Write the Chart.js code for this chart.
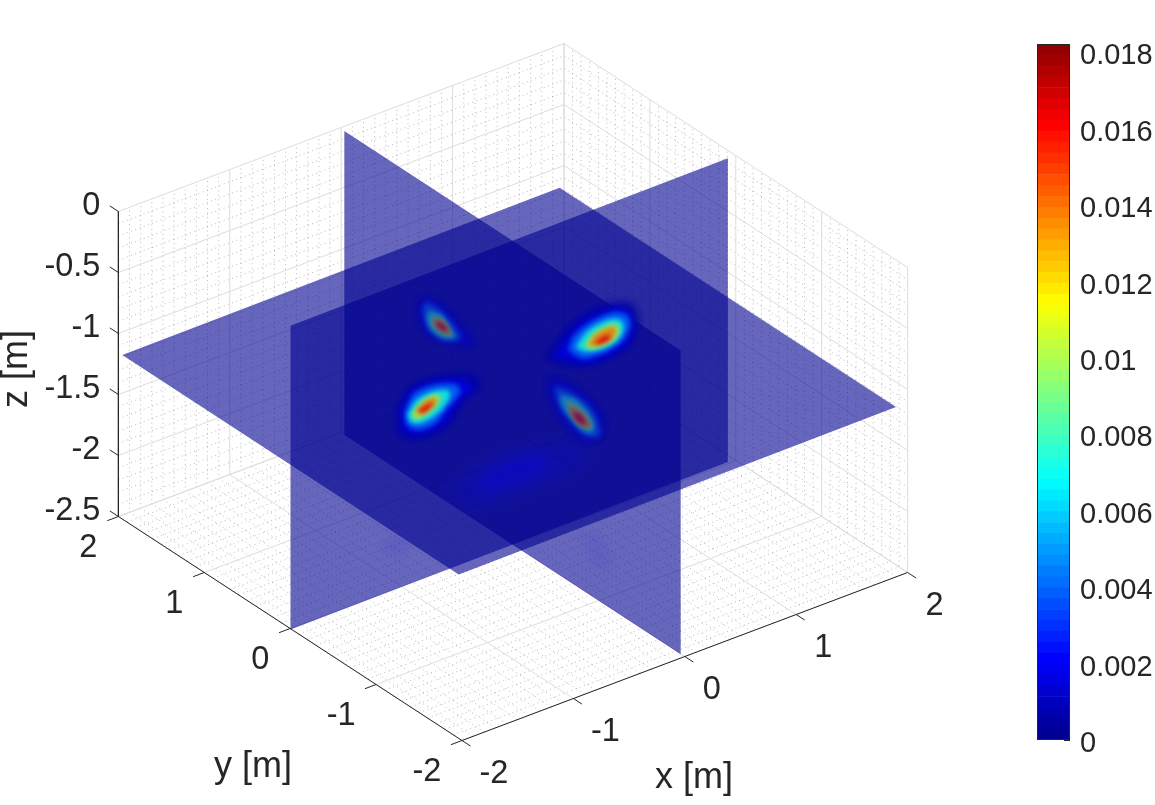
<!DOCTYPE html>
<html>
<head>
<meta charset="utf-8">
<title>Slices</title>
<script src="https://cdn.jsdelivr.net/npm/chart.js@4"></script>
<style>
    html, body { margin: 0; padding: 0; background: #ffffff; overflow: hidden; }
    #slices { position: absolute; left: 0; top: 0; }
    #colorbar { position: absolute; left: 1000px; top: 0; }
</style>
</head>
<body>
<canvas id="slices" width="1155" height="805"></canvas>
<canvas id="colorbar" width="155" height="805"></canvas>
<script>
// Axis ticks
const xTicks = [-2, -1, 0, 1, 2];
const yTicks = [-2, -1, 0, 1, 2];
const zTicks = [0, -0.5, -1, -1.5, -2, -2.5];
const xTickLabels = ['-2', '-1', '0', '1', '2'];
const yTickLabels = ['-2', '-1', '0', '1', '2'];
const zTickLabels = ['0', '-0.5', '-1', '-1.5', '-2', '-2.5'];

// Colorbar
const cbMax = 0.01822;
const cbTicks = [0, 0.002, 0.004, 0.006, 0.008, 0.01, 0.012, 0.014, 0.016, 0.018];
const cbTickLabels = ['0', '0.002', '0.004', '0.006', '0.008', '0.01', '0.012', '0.014', '0.016', '0.018'];

// Slices: extent of the sampled volume and the slice positions
const gridX = [-2, 1.94];
const gridY = [-1.95, 1.95];
const gridZ = [-2.5, -0.01];
const sliceX = 0;
const sliceY = 0;
const sliceZ = -1.15;

// Levels of the spots on the z slice, each drawn from one contour of a spot
const spotLevels = [0.0007, 0.0018, 0.0042, 0.0072, 0.0102, 0.0132, 0.016];
const spotContour = [0, 0, 1, 2, 3, 4, 5];
const spotSpread = [1.35, 1.12, 1.14, 1.14, 1.12, 1.08, 1];
const spotBlur = [5, 3.5, 2.5, 2.2, 2, 2, 2];

// Spot centres [x, y] and contours as [dx, dy] in metres around the centre
const spotTopRightCentre = [0.86, 0.06];
const spotTopRight = [
    [[-0.38, 0.02], [-0.10, 0.20], [0.11, 0.28], [0.31, 0.26], [0.35, 0.19], [0.26, 0.03], [0.09, -0.13], [-0.11, -0.18], [-0.28, -0.15]],
    [[-0.25, 0.03], [-0.11, 0.15], [0.08, 0.22], [0.26, 0.23], [0.31, 0.15], [0.24, 0.03], [0.08, -0.09], [-0.09, -0.13], [-0.24, -0.11]],
    [[-0.19, 0.03], [-0.04, 0.13], [0.08, 0.17], [0.21, 0.17], [0.24, 0.12], [0.19, 0.03], [0.07, -0.06], [-0.06, -0.09], [-0.18, -0.05]],
    [[-0.14, 0.01], [-0.02, 0.09], [0.08, 0.12], [0.18, 0.12], [0.18, 0.06], [0.10, -0.02], [-0.02, -0.06], [-0.13, -0.05]],
    [[-0.12, 0.00], [-0.02, 0.07], [0.08, 0.10], [0.16, 0.09], [0.14, 0.04], [0.05, -0.03], [-0.06, -0.04]],
    [[-0.08, -0.01], [0.02, 0.03], [0.08, 0.02], [0.04, -0.02], [-0.05, -0.03]]
];

const spotBottomLeftCentre = [-0.74, 0.06];
const spotBottomLeft = [
    [[-0.14, 0.07], [0.08, 0.23], [0.28, 0.22], [0.42, 0.13], [0.38, 0.00], [0.22, -0.06], [0.01, -0.21], [-0.20, -0.25], [-0.29, -0.15]],
    [[-0.14, 0.03], [0.05, 0.18], [0.22, 0.19], [0.33, 0.11], [0.29, 0.02], [0.10, -0.09], [-0.07, -0.19], [-0.20, -0.19], [-0.22, -0.10]],
    [[-0.14, 0.00], [0.02, 0.11], [0.18, 0.13], [0.25, 0.08], [0.19, 0.00], [0.00, -0.11], [-0.15, -0.13], [-0.18, -0.08]],
    [[-0.12, -0.01], [0.04, 0.08], [0.14, 0.10], [0.17, 0.06], [0.11, 0.00], [-0.03, -0.07], [-0.14, -0.08]],
    [[-0.08, 0.00], [0.03, 0.06], [0.11, 0.07], [0.13, 0.04], [0.04, -0.02], [-0.07, -0.05]],
    [[-0.06, 0.00], [0.03, 0.02], [0.09, 0.02], [0.02, -0.02], [-0.06, -0.04]]
];

const spotTopLeftCentre = [0.07, 0.93];
const spotTopLeft = [
    [[0.13, 0.32], [0.15, 0.18], [0.11, -0.02], [0.02, -0.30], [-0.08, -0.23], [-0.12, -0.07], [-0.08, 0.09], [0.04, 0.26]],
    [[0.11, 0.27], [0.11, 0.14], [0.07, -0.04], [-0.01, -0.22], [-0.10, -0.18], [-0.10, -0.02], [-0.03, 0.12], [0.04, 0.23]],
    [[0.05, 0.18], [0.08, 0.09], [0.03, -0.05], [-0.02, -0.18], [-0.09, -0.14], [-0.08, -0.01], [-0.02, 0.11]],
    [[0.03, 0.12], [0.05, 0.05], [0.02, -0.07], [-0.03, -0.16], [-0.06, -0.10], [-0.05, 0.01]],
    [[0.02, 0.09], [0.04, 0.03], [0.01, -0.07], [-0.02, -0.13], [-0.05, -0.08], [-0.03, 0.01]],
    [[0.00, 0.05], [0.015, -0.01], [0.00, -0.09], [-0.03, -0.07], [-0.03, -0.01]]
];

const spotBottomRightCentre = [0.05, -0.66];
const spotBottomRight = [
    [[0.14, 0.42], [0.20, 0.34], [0.19, 0.15], [0.12, -0.12], [-0.04, -0.30], [-0.14, -0.28], [-0.11, -0.05], [-0.01, 0.22], [0.09, 0.38]],
    [[0.12, 0.36], [0.15, 0.24], [0.14, 0.05], [0.07, -0.14], [-0.04, -0.30], [-0.11, -0.25], [-0.07, -0.02], [0.01, 0.19]],
    [[0.08, 0.25], [0.12, 0.17], [0.09, -0.01], [0.02, -0.17], [-0.05, -0.24], [-0.08, -0.19], [-0.04, 0.00], [0.01, 0.15]],
    [[0.07, 0.18], [0.08, 0.09], [0.05, -0.07], [-0.02, -0.20], [-0.06, -0.16], [-0.03, -0.01]],
    [[0.03, 0.12], [0.05, 0.05], [0.03, -0.08], [-0.02, -0.18], [-0.06, -0.13], [-0.03, -0.01]],
    [[0.02, 0.04], [0.03, -0.02], [-0.01, -0.14], [-0.04, -0.11], [-0.02, -0.02]]
];

// Faint lobes on the vertical slices: [x, z] on the y slice, [y, z] on the x slice
const arcOuter = [[-0.62, -1.88], [-0.38, -1.80], [-0.02, -1.76], [0.43, -1.83], [0.70, -1.94], [0.52, -2.07], [0.07, -2.08], [-0.38, -2.04]];
const arcInner = [[-0.29, -1.85], [-0.02, -1.82], [0.29, -1.87], [0.29, -1.99], [-0.02, -1.98], [-0.29, -1.97]];
const lobeLeft = [[-1.20, -2.09], [-1.06, -2.05], [-0.92, -2.18], [-1.06, -2.24]];
const lobeRight = [[-0.76, -2.03], [-1.01, -1.95], [-1.15, -2.10], [-1.01, -2.24], [-0.84, -2.16]];

// Orthographic view: pixels per metre along each axis
function project(x, y, z) {
    return {
        x: 463 + 111 * (x + 2) - 86.25 * (y + 2),
        y: 742 - 42.5 * (x + 2) - 56.25 * (y + 2) - 122 * (z + 2.5)
    };
}

function projectBox(x, y, z) {
    return {
        x: 462 + 111.4 * (x + 2) - 85.9 * (y + 2),
        y: 740.5 - 42 * (x + 2) - 56 * (y + 2) - 122 * (z + 2.5)
    };
}

function jet(v) {
    const c = t => Math.round(255 * Math.max(0, Math.min(1, t)));
    return [c(Math.min(4 * v - 1.5, 4.5 - 4 * v)), c(Math.min(4 * v - 0.5, 3.5 - 4 * v)), c(Math.min(4 * v + 0.5, 2.5 - 4 * v))];
}

function closed(points) {
    return points.concat([points[0]]);
}

function lineSet(points, color, width, dash) {
    return {
        data: points, showLine: true, fill: false, pointRadius: 0,
        borderColor: color, borderWidth: width, borderDash: dash || [], tension: 0
    };
}

function areaSet(points, color, blur, tension) {
    return {
        data: closed(points), showLine: true, fill: 'shape', pointRadius: 0,
        borderWidth: 0, borderColor: 'rgba(0,0,0,0)', backgroundColor: color,
        tension: tension || 0, blur: blur || 0
    };
}

// Grid lines on the floor and on the two back walls
function gridLines(xs, ys, zs) {
    const pts = [];
    const gap = { x: NaN, y: NaN };
    xs.forEach(t => {
        pts.push(projectBox(t, -2, -2.5), projectBox(t, 2, -2.5), projectBox(t, 2, 0), gap);
    });
    ys.forEach(t => {
        pts.push(projectBox(-2, t, -2.5), projectBox(2, t, -2.5), projectBox(2, t, 0), gap);
    });
    zs.forEach(t => {
        pts.push(projectBox(-2, 2, t), projectBox(2, 2, t), projectBox(2, -2, t), gap);
    });
    return pts;
}

function minorValues(from, to) {
    const out = [];
    for (let i = Math.round(from * 10); i <= Math.round(to * 10); i++) {
        if (i % 5 !== 0 || (from === -2 && i % 10 !== 0)) out.push(i / 10);
    }
    return out;
}

function axisLines() {
    const pts = [];
    const gap = { x: NaN, y: NaN };
    pts.push(projectBox(-2, 2, 0), projectBox(-2, 2, -2.5), projectBox(-2, -2, -2.5), projectBox(2, -2, -2.5), gap);
    xTicks.forEach(t => pts.push(projectBox(t, -2, -2.5), projectBox(t, -2.1, -2.5), gap));
    yTicks.forEach(t => pts.push(projectBox(-2, t, -2.5), projectBox(-2.1, t, -2.5), gap));
    zTicks.forEach(t => pts.push(projectBox(-2, 2, t), projectBox(-2, 2.1, t), gap));
    return pts;
}

// Colours of a spot seen through the slices in front of it
function spotColor(level, alpha) {
    const base = [14, 14, 150];
    const c = jet(level / cbMax);
    return 'rgb(' + c.map((v, i) => Math.round(v * alpha + base[i] * (1 - alpha))).join(',') + ')';
}

function spotSets(centre, contours, alpha) {
    return spotLevels.map((level, i) => areaSet(
        contours[spotContour[i]].map(p => project(centre[0] + p[0] * spotSpread[i], centre[1] + p[1] * spotSpread[i], sliceZ)),
        spotColor(level, alpha), spotBlur[i], 0.3
    ));
}

const planeColor = 'rgba(0,0,143,0.6)';
const planes = [
    [[gridX[0], sliceY, gridZ[0]], [gridX[1], sliceY, gridZ[0]], [gridX[1], sliceY, gridZ[1]], [gridX[0], sliceY, gridZ[1]]],
    [[sliceX, gridY[0], gridZ[0]], [sliceX, gridY[1], gridZ[0]], [sliceX, gridY[1], gridZ[1]], [sliceX, gridY[0], gridZ[1]]],
    [[gridX[0], gridY[1], sliceZ], [gridX[1], gridY[1], sliceZ], [gridX[1], gridY[0], sliceZ], [gridX[0], gridY[0], sliceZ]]
];

// listed bottom to top, chart.js paints the first dataset last so it gets reversed below
const layers = [
    lineSet(gridLines(minorValues(-2, 2), minorValues(-2, 2), minorValues(-2.5, 0)), 'rgba(38,38,38,0.36)', 0.9, [1, 3.5]),
    lineSet(gridLines(xTicks, yTicks, zTicks), '#dcdcdc', 1),
    lineSet(axisLines(), '#262626', 1)
];
planes.forEach(p => layers.push(areaSet(p.map(v => project(v[0], v[1], v[2])), planeColor)));
layers.push(areaSet(arcOuter.map(p => project(p[0], sliceY, p[1])), 'rgba(0,0,255,0.18)', 10, 0.3));
layers.push(areaSet(arcInner.map(p => project(p[0], sliceY, p[1])), 'rgba(0,0,255,0.3)', 8, 0.3));
layers.push(areaSet(lobeLeft.map(p => project(p[0], sliceY, p[1])), 'rgba(40,40,230,0.12)', 4, 0.3));
layers.push(areaSet(lobeRight.map(p => project(sliceX, p[0], p[1])), 'rgba(40,40,230,0.1)', 4, 0.3));
layers.push(...spotSets(spotTopRightCentre, spotTopRight, 0.85));
layers.push(...spotSets(spotBottomLeftCentre, spotBottomLeft, 0.85));
layers.push(...spotSets(spotTopLeftCentre, spotTopLeft, 0.46));
layers.push(...spotSets(spotBottomRightCentre, spotBottomRight, 0.46));

// Soft edges for the contours, has to run before the filler plugin
const softEdges = {
    id: 'softEdges',
    beforeDatasetDraw(chart, args) {
        const blur = chart.data.datasets[args.index].blur;
        if (blur) {
            chart.ctx.save();
            chart.ctx.filter = 'blur(' + blur + 'px)';
        }
    },
    afterDatasetDraw(chart, args) {
        if (chart.data.datasets[args.index].blur) chart.ctx.restore();
    }
};
const filler = Chart.registry.getPlugin('filler');
Chart.unregister(filler);
Chart.register(softEdges, filler);

// Tick labels and axis titles
const axisText = {
    id: 'axisText',
    afterDraw(chart) {
        const ctx = chart.ctx;
        ctx.save();
        ctx.fillStyle = '#262626';
        ctx.font = '32.5px "Liberation Sans"';
        ctx.textBaseline = 'middle';
        ctx.textAlign = 'right';
        zTicks.forEach((t, i) => {
            const p = projectBox(-2, 2, t);
            ctx.fillText(zTickLabels[i], p.x - 18, p.y - 5);
        });
        ctx.textAlign = 'center';
        yTicks.forEach((t, i) => {
            const p = projectBox(-2, t, -2.5);
            ctx.fillText(yTickLabels[i], p.x - (t < 0 ? 35 : 30), p.y + 32);
        });
        xTicks.forEach((t, i) => {
            const p = projectBox(t, -2, -2.5);
            ctx.fillText(xTickLabels[i], p.x + (t < 0 ? 32 : 27), p.y + 34);
        });
        ctx.font = '36px "Liberation Sans"';
        ctx.fillText('y [m]', 253, 767);
        ctx.fillText('x [m]', 694, 778);
        ctx.translate(17, 369);
        ctx.rotate(-Math.PI / 2);
        ctx.fillText('z [m]', 0, 0);
        ctx.restore();
    }
};

new Chart(document.getElementById('slices'), {
    type: 'scatter',
    data: { datasets: layers.slice().reverse() },
    options: {
        responsive: false,
        animation: false,
        events: [],
        layout: { padding: 0 },
        plugins: { legend: { display: false }, tooltip: { enabled: false } },
        scales: {
            x: { type: 'linear', min: 0, max: 1155, display: false },
            y: { type: 'linear', min: 0, max: 805, reverse: true, display: false }
        }
    },
    plugins: [axisText]
});

// Colorbar as a stack of 64 flat colour bands
const cbBands = [];
for (let i = 0; i < 64; i++) {
    const c = jet((i + 1.2) / 65.4);
    cbBands.push({
        data: [cbMax / 64],
        backgroundColor: 'rgb(' + c.join(',') + ')',
        borderWidth: 0,
        barPercentage: 1,
        categoryPercentage: 1
    });
}

const cbFrame = {
    id: 'cbFrame',
    afterDraw(chart) {
        const a = chart.chartArea;
        const ctx = chart.ctx;
        ctx.save();
        ctx.strokeStyle = '#262626';
        ctx.lineWidth = 1;
        ctx.strokeRect(a.left + 0.5, a.top + 0.5, a.right - a.left - 1, a.bottom - a.top - 1);
        ctx.restore();
    }
};

new Chart(document.getElementById('colorbar'), {
    type: 'bar',
    data: { labels: [''], datasets: cbBands },
    options: {
        responsive: false,
        animation: false,
        events: [],
        layout: { padding: { left: 37, top: 44, bottom: 65, right: 0 } },
        plugins: { legend: { display: false }, tooltip: { enabled: false } },
        scales: {
            x: { stacked: true, display: false },
            y: {
                stacked: true,
                position: 'right',
                min: 0,
                max: cbMax,
                afterBuildTicks: scale => { scale.ticks = cbTicks.map(v => ({ value: v })); },
                afterFit: scale => { scale.width = 85; },
                border: { display: false },
                grid: { drawOnChartArea: false, drawTicks: true, tickLength: -6, tickColor: '#262626', tickWidth: 1 },
                ticks: {
                    autoSkip: false,
                    padding: 16,
                    labelOffset: 4,
                    color: '#262626',
                    font: { family: 'Liberation Sans', size: 29 },
                    callback: (value, index) => cbTickLabels[index]
                }
            }
        }
    },
    plugins: [cbFrame]
});
</script>
</body>
</html>
